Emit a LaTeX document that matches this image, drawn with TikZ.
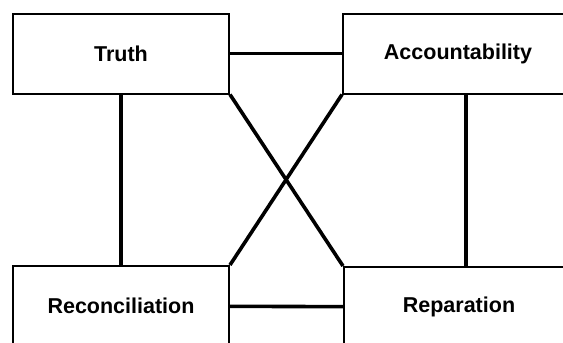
\documentclass[tikz,border=0pt]{standalone}
\usepackage{fontspec}
\setmainfont{Liberation Sans}

\tikzset{
  box/.style={draw, line width=2pt, minimum width=216pt, minimum height=80pt,
    inner sep=0pt, font=\fontsize{21.5}{24}\selectfont\bfseries},
  wbox/.style={box, minimum width=230pt},
  link/.style={line width=3.6pt}
}

\begin{document}
\begin{tikzpicture}[x=1pt, y=-1pt]

\useasboundingbox (0,0) rectangle (563,343);
\clip (0,0) rectangle (563,343);

\node[box]  (truth) at (121, 53.5) {Truth};
\node[wbox] (acc)   at (458, 53.5) {Accountability};
\node[box]  (rec)   at (121, 306)  {Reconciliation};
\node[wbox] (rep)   at (459, 307)  {Reparation};

\draw[link] (truth) -- (acc);
\draw[link] (rec) -- (rep);
\draw[link] (truth.south) -- (truth.south |- rec.north);
\draw[link] ([xshift=8pt]acc.south) -- ([xshift=8pt]acc.south |- rep.north);
\draw[link] (truth.south east) -- (rep.north west);
\draw[link] (acc.south west) -- (rec.north east);

\end{tikzpicture}
\end{document}
